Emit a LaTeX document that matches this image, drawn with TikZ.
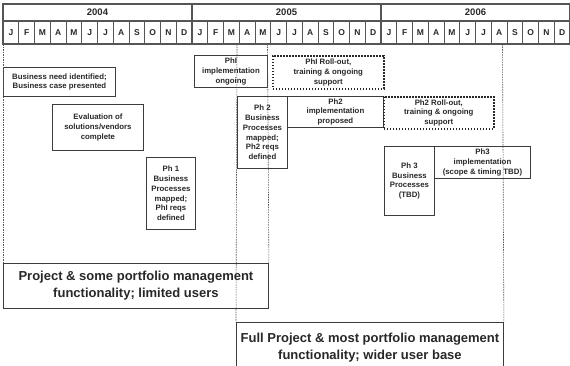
\documentclass[tikz,border=0pt]{standalone}
\usepackage{fontspec}
\setmainfont{Liberation Sans}
\usetikzlibrary{positioning}
\definecolor{linegray}{RGB}{60,60,60}
\definecolor{textgray}{RGB}{40,40,40}
\definecolor{gridgray}{RGB}{85,85,85}

\begin{document}
\begin{tikzpicture}[
    x=1pt, y=-1pt,
    phase/.style={rectangle, draw=linegray, line width=0.9pt, inner sep=0pt, align=center, anchor=north west, text=textgray, font=\fontsize{7.8}{9.8}\selectfont\bfseries},
    rollout/.style={phase, draw=textgray, dash pattern=on 1.6pt off 1.4pt, line width=1.6pt},
    outcome/.style={phase, font=\fontsize{13}{16.7}\selectfont\bfseries},
    marker/.style={gridgray, dash pattern=on 1.5pt off 1pt, line width=0.6pt},
    month/.style={font=\fontsize{8.5}{9}\selectfont\bfseries, text=textgray, inner sep=0pt},
    year/.style={font=\fontsize{9.5}{10}\selectfont\bfseries, text=textgray, inner sep=0pt}
]
    \fill[white] (0,0) rectangle (570,365);
    \useasboundingbox (0,0) rectangle (570,365);

    % Calendar header
    \foreach \yr [count=\k from 0] in {2004,2005,2006} {
        \node[year] (y\yr) at ({3+189*\k+94.5},12.5) {\yr};
        \foreach \mo [count=\j from 0] in {J,F,M,A,M,J,J,A,S,O,N,D}
            \node[month] (m\yr-\j) at ({3+15.75*(12*\k+\j)+7.9},32.5) {\mo};
    }
    \foreach \i in {1,...,35}
        \draw[gridgray, line width=0.9pt] ({3+15.75*\i},21) -- ({3+15.75*\i},44);
    \foreach \i in {12,24}
        \draw[gridgray, line width=1.4pt] ({3+15.75*\i},4) -- ({3+15.75*\i},44);
    \draw[gridgray, line width=1.4pt] (3,21) -- (570,21);
    \draw[gridgray, line width=1.6pt] (3,4) rectangle (570,44);

    % Phase boxes
    \node[phase, minimum width=112, minimum height=29] (need) at (3,67) {Business need identified;\\Business case presented};
    \node[phase, minimum width=91, minimum height=46] (eval) at (52,104) {Evaluation of\\solutions/vendors\\complete};
    \node[phase, minimum width=49, minimum height=72] (phamap) at (146,157) {Ph 1\\Business\\Processes\\mapped;\\PhI reqs\\defined};
    \node[phase, minimum width=73, minimum height=32] (phaimpl) at (194,55) {PhI\\implementation\\ongoing};
    \node[rollout, minimum width=111, minimum height=33] (pharoll) at (272,55) {PhI Roll-out,\\training \& ongoing\\support};
    \node[phase, minimum width=50, minimum height=72] (phbmap) at (237,96) {Ph 2\\Business\\Processes\\mapped;\\Ph2 reqs\\defined};
    \node[phase, minimum width=96, minimum height=31] (phbimpl) at (287,96) {Ph2\\implementation\\proposed};
    \node[rollout, minimum width=110, minimum height=32] (phbroll) at (383,96) {Ph2 Roll-out,\\training \& ongoing\\support};
    \node[phase, minimum width=50, minimum height=69] (phcmap) at (384,146) {Ph 3\\Business\\Processes\\(TBD)};
    \node[phase, minimum width=96, minimum height=32] (phcimpl) at (434,146) {Ph3\\implementation\\(scope \& timing TBD)};

    % Scope of each release
    \node[outcome, minimum width=265, minimum height=45] (scopea) at (3,263) {Project \& some portfolio management\\functionality; limited users};
    \node[outcome, minimum width=267, minimum height=50] (scopeb) at (236,322) {Full Project \& most portfolio management\\functionality; wider user base};

    % Timeline markers
    \coordinate (ta) at (3,44);
    \coordinate (tb) at (237,44);
    \coordinate (tc) at (267.5,44);
    \coordinate (td) at (502.5,44);
    \draw[marker] (ta) -- (scopea.north west);
    \draw[marker] (tb) -- (scopeb.north west);
    \draw[marker] (tc) -- (scopea.north east);
    \draw[marker] (td) -- (scopeb.north east);
\end{tikzpicture}
\end{document}
